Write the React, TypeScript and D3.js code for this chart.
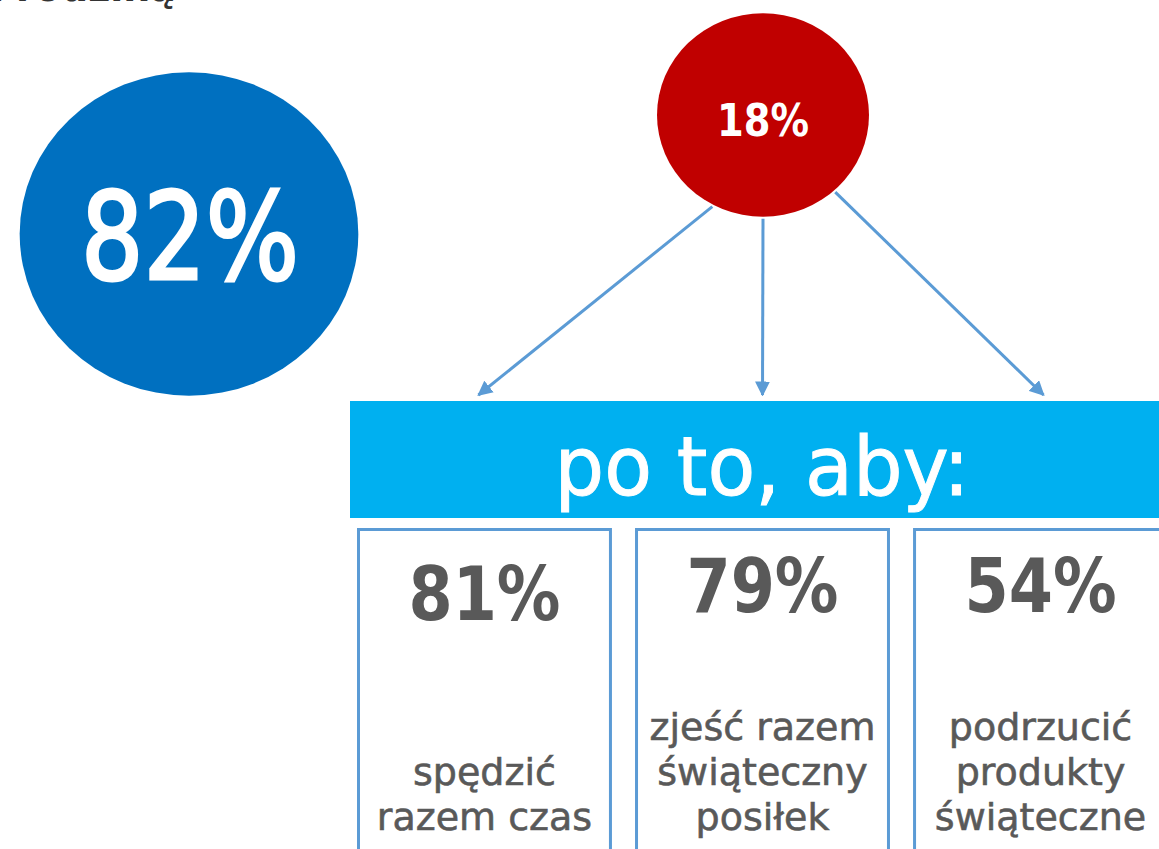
import * as d3 from "d3";
import React, { useEffect, useRef } from "react";

var width = 1159;
var height = 849;

// data
const headerText = "z rodziną";
const mainValue = [82];
const subsetValue = [18];
const bannerText = "po to, aby:";
const reasonKeys = ["czas", "posilek", "produkty"];
const reasonValues = [81, 79, 54];
const reasonLabels = [
  ["spędzić", "razem czas"],
  ["zjeść razem", "świąteczny", "posiłek"],
  ["podrzucić", "produkty", "świąteczne"],
];

const font = "'DejaVu Sans', Verdana, sans-serif";
const condensed = "'DejaVu Sans Condensed', 'DejaVu Sans', sans-serif";
const gray = "#595959";
const lineBlue = "#5B9BD5";

export default function App() {
  const ref = useRef<SVGSVGElement>(null);

  useEffect(() => {
    document.body.style.margin = "0";
    const svg = d3.select(ref.current);
    svg.selectAll("*").remove();

    const pct = (v: number) => d3.format("d")(v) + "%";

    // cut-off title line at the top
    svg.append("text")
      .attr("x", 176).attr("y", 1)
      .attr("text-anchor", "end")
      .attr("font-family", font)
      .attr("font-weight", "bold")
      .attr("font-size", 38)
      .attr("fill", "#333")
      .text(headerText);

    // big blue circle (slightly squashed like the source image)
    const bigR = d3.scaleSqrt().domain([0, 100]).range([0, 187]);
    svg.selectAll(".main")
      .data(mainValue).enter()
      .append("ellipse")
      .attr("class", "main")
      .attr("cx", 189).attr("cy", 234)
      .attr("rx", (d) => bigR(d))
      .attr("ry", (d) => bigR(d) * 0.955)
      .attr("fill", "#0070C0");
    svg.selectAll(".mainLabel")
      .data(mainValue).enter()
      .append("text")
      .attr("class", "mainLabel")
      .attr("x", 190).attr("y", 279)
      .attr("text-anchor", "middle")
      .attr("font-family", condensed)
      .attr("font-size", 122)
      .attr("textLength", 218)
      .attr("lengthAdjust", "spacingAndGlyphs")
      .attr("fill", "#fff")
      .attr("stroke", "#fff")
      .attr("stroke-width", 3)
      .text((d) => pct(d));

    // boxes layout
    const x = d3.scaleBand()
      .domain(reasonKeys)
      .range([357, 1168])
      .paddingInner(0.083);

    // red circle
    const rcx = 763, rcy = 115, rr = 106;
    svg.selectAll(".sub")
      .data(subsetValue).enter()
      .append("ellipse")
      .attr("class", "sub")
      .attr("cx", rcx).attr("cy", rcy)
      .attr("rx", rr).attr("ry", rr * 0.96)
      .attr("fill", "#C00000");
    svg.selectAll(".subLabel")
      .data(subsetValue).enter()
      .append("text")
      .attr("class", "subLabel")
      .attr("x", rcx).attr("y", 136)
      .attr("text-anchor", "middle")
      .attr("font-family", condensed)
      .attr("font-weight", "bold")
      .attr("font-size", 44)
      .attr("textLength", 92)
      .attr("lengthAdjust", "spacingAndGlyphs")
      .attr("fill", "#fff")
      .text((d) => pct(d));

    // arrows
    svg.append("defs").append("marker")
      .attr("id", "arrow")
      .attr("viewBox", "0 0 10 10")
      .attr("refX", 9).attr("refY", 5)
      .attr("markerWidth", 5).attr("markerHeight", 5)
      .attr("orient", "auto")
      .append("path")
      .attr("d", "M0,0L10,5L0,10z")
      .attr("fill", lineBlue);

    const startAngles = [118, 90, 48];
    svg.selectAll(".arrow")
      .data(reasonKeys).enter()
      .append("line")
      .attr("class", "arrow")
      .attr("x1", (d, i) => rcx + (rr + 2) * Math.cos(startAngles[i] * Math.PI / 180))
      .attr("y1", (d, i) => rcy + (rr * 0.96 + 2) * Math.sin(startAngles[i] * Math.PI / 180))
      .attr("x2", (d) => x(d)! + x.bandwidth() / 2 - (d === reasonKeys[0] ? 6 : d === reasonKeys[2] ? -3 : 0))
      .attr("y2", 395)
      .attr("stroke", lineBlue)
      .attr("stroke-width", 3)
      .attr("marker-end", "url(#arrow)");

    // banner
    svg.append("rect")
      .attr("x", 350).attr("y", 401)
      .attr("width", width - 350).attr("height", 117)
      .attr("fill", "#00B0F0");
    svg.append("text")
      .attr("x", 762).attr("y", 495)
      .attr("text-anchor", "middle")
      .attr("font-family", font)
      .attr("font-size", 82)
      .attr("textLength", 415)
      .attr("lengthAdjust", "spacingAndGlyphs")
      .attr("fill", "#fff")
      .attr("stroke", "#fff")
      .attr("stroke-width", 1)
      .text(bannerText);

    // boxes
    const boxes = svg.selectAll(".box")
      .data(reasonKeys).enter()
      .append("g")
      .attr("class", "box")
      .attr("transform", (d) => "translate(" + x(d) + ",0)");

    boxes.append("rect")
      .attr("x", 1.5).attr("y", 529.5)
      .attr("width", x.bandwidth() - 3)
      .attr("height", 400)
      .attr("fill", "none")
      .attr("stroke", lineBlue)
      .attr("stroke-width", 3);

    boxes.append("text")
      .attr("x", x.bandwidth() / 2)
      .attr("y", (d, i) => (i === 0 ? 620 : 612))
      .attr("text-anchor", "middle")
      .attr("font-family", condensed)
      .attr("font-weight", "bold")
      .attr("font-size", 74)
      .attr("textLength", 152)
      .attr("lengthAdjust", "spacingAndGlyphs")
      .attr("fill", gray)
      .text((d, i) => pct(reasonValues[i]));

    boxes.append("text")
      .attr("text-anchor", "middle")
      .attr("font-family", font)
      .attr("font-size", 38)
      .attr("fill", gray)
      .attr("stroke", gray)
      .attr("stroke-width", 0.6)
      .selectAll("tspan")
      .data((d, i) => reasonLabels[i].map((t, j) => ({ t, j, n: reasonLabels[i].length })))
      .enter()
      .append("tspan")
      .attr("x", x.bandwidth() / 2)
      .attr("y", (d) => 830 - (d.n - 1 - d.j) * 45)
      .text((d) => d.t);
  }, []);

  return <svg ref={ref} width={width} height={height} style={{ display: "block" }} />;
}
